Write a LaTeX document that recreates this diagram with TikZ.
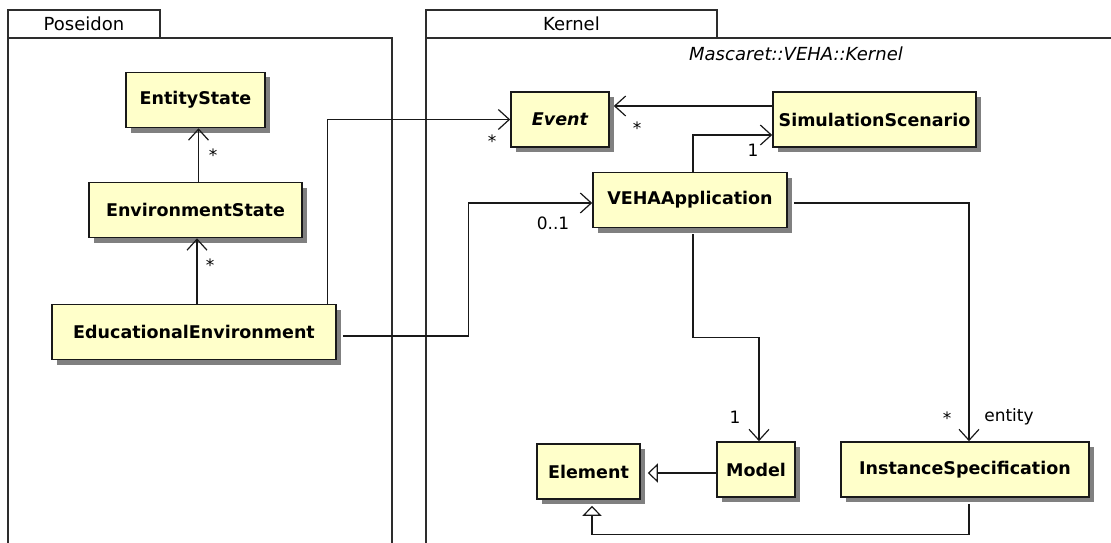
\documentclass[tikz,border=0pt]{standalone}
\usepackage{fontspec}
\setmainfont{DejaVu Sans}
\usetikzlibrary{arrows.meta,shadows,positioning}
\definecolor{classfill}{RGB}{255,255,202}
\definecolor{umlline}{RGB}{25,25,25}
\definecolor{pkgline}{RGB}{45,45,45}
\definecolor{shade}{RGB}{128,128,128}

\begin{document}
\begin{tikzpicture}[x=1pt,y=-1pt,
  umlclass/.style={rectangle,draw=umlline,line width=1.6pt,fill=classfill,
                   minimum height=55pt,inner sep=0pt,
                   font=\bfseries\fontsize{17.5}{20}\selectfont,
                   drop shadow={shadow xshift=5pt,shadow yshift=-5pt,fill=shade,opacity=1}},
  assoc/.style={draw=umlline,line width=1.2pt,
                -{Straight Barb[length=11pt,width=20pt,line width=1.2pt]}},
  gen/.style={draw=umlline,line width=1.2pt,
              -{Triangle[open,length=10pt,width=19pt,line width=1.2pt]}},
  mult/.style={font=\fontsize{17}{20}\selectfont,inner sep=0pt},
  pkg/.style={draw=pkgline,line width=1.5pt},
  pkgtab/.style={pkg,rectangle,minimum height=28pt,inner sep=0pt,
                 font=\fontsize{18}{20}\selectfont}]

  \useasboundingbox (0,0) rectangle (1111,543);

  % packages
  \node[pkgtab,minimum width=152pt] (poseidontab) at (84,24) {Poseidon};
  \draw[pkg] (8,546) |- (392,38) -- (392,546);
  \node[pkgtab,minimum width=291pt] (kerneltab) at (571.5,24) {Kernel};
  \draw[pkg] (426,546) |- (1115,38);
  \node[anchor=east,inner sep=0pt,font=\itshape\fontsize{18}{20}\selectfont]
    (nsname) at (903,54) {Mascaret::VEHA::Kernel};

  % classes
  \node[umlclass,minimum width=139pt] (entitystate) at (195.5,100) {EntityState};
  \node[umlclass,minimum width=213pt] (envstate) at (195.5,210) {EnvironmentState};
  \node[umlclass,minimum width=284pt] (eduenv) at (194,332) {EducationalEnvironment};
  \node[umlclass,minimum width=98pt] (event) at (560,119.5) {\itshape Event};
  \node[umlclass,minimum width=203pt] (simscen) at (874.5,119.5) {SimulationScenario};
  \node[umlclass,minimum width=194pt] (veha) at (690,200) {VEHAApplication};
  \node[umlclass,minimum width=103pt] (element) at (588.5,471.5) {Element};
  \node[umlclass,minimum width=78pt] (model) at (756,469.5) {Model};
  \node[umlclass,minimum width=248pt] (instspec) at (965,469.5) {InstanceSpecification};

  % associations
  \draw[assoc] ([xshift=3pt]envstate.north) -- ([xshift=3pt]entitystate.south);
  \draw[assoc] ([xshift=3pt]eduenv.north) -- ([xshift=1.5pt]envstate.south);
  \draw[assoc] ([xshift=-9pt]eduenv.north east) |- (event.west);
  \draw[assoc] ([xshift=6pt,yshift=-4pt]eduenv.east) -- ++(126,0) |- ([yshift=-3pt]veha.west);
  \draw[assoc] ([yshift=13.5pt]simscen.west) -- ([xshift=4pt,yshift=13.5pt]event.east);
  \draw[assoc] ([xshift=3pt]veha.north) |- ([yshift=-15.5pt]simscen.west);
  \draw[assoc] ([xshift=3pt,yshift=-6pt]veha.south) -- ++(0,103) -| ([xshift=3pt]model.north);
  \draw[assoc] ([xshift=6pt,yshift=-3pt]veha.east) -| ([xshift=4pt]instspec.north);

  % generalisations
  \draw[gen] ([yshift=-3.5pt]model.west) -- ([xshift=7pt,yshift=-1.5pt]element.east);
  \draw[gen] ([xshift=4pt,yshift=-6pt]instspec.south) -- ++(0,31)
    -| ([xshift=3.5pt,yshift=-6pt]element.south);

  % multiplicities and role names
  \foreach \x/\y/\lbl [count=\i] in {213/155/*, 210/265/*, 492/141/*, 637/128/*,
                                     753/150/1, 553/223/0..1, 735/417/1,
                                     947/418/*, 1009/417/entity}{
    \node[mult] (mult\i) at (\x,\y) {\lbl};
  }
\end{tikzpicture}
\end{document}
